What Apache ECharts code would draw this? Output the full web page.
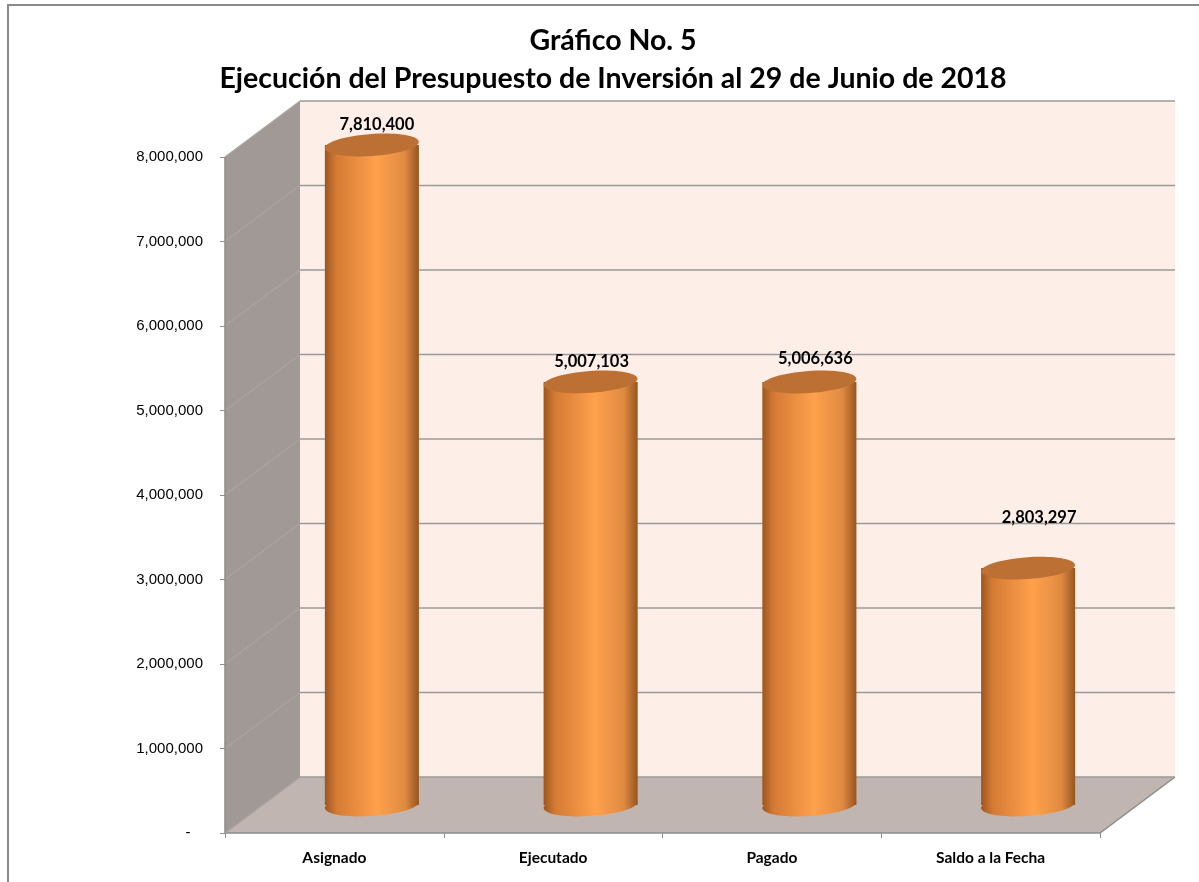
<!DOCTYPE html>
<html>
<head>
    <meta charset="utf-8">
    <title>Gráfico No. 5</title>
    <script src="https://cdn.jsdelivr.net/npm/echarts@6/dist/echarts.min.js"></script>
    <style>
        *{ margin:0; padding:0; }
        body{ background:#fff; }
        #main{ width:1199px; height:882px; }
    </style>
</head>
<body>
<div id="main"></div>
<script type="text/javascript">
    // datos del grafico
    var categorias = ['Asignado', 'Ejecutado', 'Pagado', 'Saldo a la Fecha'];
    var valores = [7810400, 5007103, 5006636, 2803297];
    var ejeMax = 8000000;
    var ejePaso = 1000000;

    // profundidad 3D (px) y ajustes de las etiquetas como en el original
    var DX = 75, DY = -56;
    var etiquetaSubir = [20, 20, 23, 50];
    var etiquetaMover = [5, 1, 6, 11];

    var fuente = 'Lato, "Open Sans", sans-serif';

    (function(){
        var chart = echarts.init(document.getElementById('main'));

        function paredes(params, api) {
            var cs = params.coordSys;
            var x0 = cs.x, x1 = cs.x + cs.width;
            var y0 = api.coord([0, 0])[1];
            var yTop = api.coord([0, ejeMax])[1];
            var hijos = [];
            // pared del fondo
            hijos.push({type: 'rect', shape: {x: x0 + DX, y: yTop + DY, width: cs.width, height: y0 - yTop},
                style: {fill: '#fdeee7'}});
            // pared lateral
            hijos.push({type: 'polygon', shape: {points: [[x0, yTop], [x0 + DX, yTop + DY], [x0 + DX, y0 + DY], [x0, y0]]},
                style: {fill: '#a19995'}});
            // piso
            hijos.push({type: 'polygon', shape: {points: [[x0, y0], [x0 + DX, y0 + DY], [x1 + DX, y0 + DY], [x1, y0]]},
                style: {fill: '#c0b5b0'}});
            // lineas de division
            for (var v = ejePaso; v <= ejeMax; v += ejePaso) {
                var y = api.coord([0, v])[1];
                hijos.push({type: 'line', shape: {x1: x0 + DX, y1: y + DY, x2: x1 + DX, y2: y + DY},
                    style: {stroke: '#9a9a9a', lineWidth: 1.5}});
                hijos.push({type: 'line', shape: {x1: x0, y1: y, x2: x0 + DX, y2: y + DY},
                    style: {stroke: '#aaa5a2', lineWidth: 1.2}});
            }
            // bordes
            hijos.push({type: 'polyline', shape: {points: [[x0, yTop], [x0, y0], [x1, y0], [x1 + DX, y0 + DY]]},
                style: {stroke: '#8c8c8c', lineWidth: 1.5, fill: null}});
            hijos.push({type: 'line', shape: {x1: x0, y1: y0, x2: x0 + DX, y2: y0 + DY},
                style: {stroke: '#a8a09c', lineWidth: 1.2}});
            hijos.push({type: 'line', shape: {x1: x0 + DX, y1: y0 + DY, x2: x1 + DX, y2: y0 + DY},
                style: {stroke: '#9a9a9a', lineWidth: 1.5}});
            return {type: 'group', children: hijos};
        }

        function cilindro(params, api) {
            var i = api.value(0);
            var base = api.coord([i, 0]);
            var tope = api.coord([i, api.value(1)]);
            var cx = base[0] + DX / 2;
            var yb = base[1] + DY / 2;
            var yt = tope[1] + DY / 2;
            var w = api.size([1, 0])[0] * 0.43;
            var ry = 11;
            var grad = new echarts.graphic.LinearGradient(0, 0, 1, 0, [
                {offset: 0, color: '#9c5620'},
                {offset: 0.12, color: '#d47a34'},
                {offset: 0.55, color: '#ffa14c'},
                {offset: 0.85, color: '#e08a42'},
                {offset: 1, color: '#97551f'}
            ]);
            return {
                type: 'group',
                children: [
                    {type: 'ellipse', shape: {cx: cx, cy: yb, rx: w / 2, ry: ry}, rotation: 0.07,
                        originX: cx, originY: yb, style: {fill: grad}},
                    {type: 'rect', shape: {x: cx - w / 2, y: yt, width: w, height: yb - yt}, style: {fill: grad}},
                    {type: 'ellipse', shape: {cx: cx, cy: yt, rx: w / 2, ry: ry}, rotation: 0.07,
                        originX: cx, originY: yt, style: {fill: '#bd7034'}},
                    {type: 'text', x: cx + etiquetaMover[i], y: yt - etiquetaSubir[i],
                        style: {text: api.value(1).toLocaleString('en-US'), font: 'bold 16.5px ' + fuente,
                            fill: '#000', align: 'center', verticalAlign: 'middle'}}
                ]
            };
        }

        var option = {
            animation: false,
            backgroundColor: '#fff',
            title: {
                text: 'Gráfico No. 5\nEjecución del Presupuesto de Inversión al 29 de Junio de 2018',
                left: 608,
                top: 17,
                textAlign: 'center',
                textStyle: {fontFamily: fuente, fontWeight: 'bold', fontSize: 28.5, lineHeight: 38, color: '#000'}
            },
            graphic: [{
                type: 'rect', shape: {x: 8, y: 5, width: 1400, height: 1000},
                style: {fill: null, stroke: '#8a8a8a', lineWidth: 2}, z: 100
            }],
            grid: {left: 225, right: 99, top: 157, bottom: 49},
            xAxis: {
                type: 'category',
                data: categorias,
                axisLine: {show: false},
                axisTick: {show: true, length: 5, lineStyle: {color: '#8c8c8c'}},
                axisLabel: {margin: 17, fontFamily: fuente, fontWeight: 'bold', fontSize: 15.5, color: '#000'},
                splitLine: {show: false}
            },
            yAxis: {
                type: 'value',
                min: 0,
                max: ejeMax,
                interval: ejePaso,
                axisLine: {show: false},
                axisTick: {show: true, length: 5, lineStyle: {color: '#8c8c8c'}},
                axisLabel: {
                    margin: 22,
                    fontFamily: '"Liberation Sans", Arial, sans-serif',
                    fontSize: 15,
                    color: '#000',
                    formatter: function (v) { return v === 0 ? '-   ' : v.toLocaleString('en-US'); }
                },
                splitLine: {show: false}
            },
            series: [
                {
                    type: 'custom',
                    z: 1,
                    renderItem: paredes,
                    data: [[0, 0]],
                    silent: true
                },
                {
                    type: 'custom',
                    z: 2,
                    renderItem: cilindro,
                    encode: {x: 0, y: 1},
                    data: valores.map(function (v, i) { return [i, v]; })
                }
            ]
        };
        chart.setOption(option);
    })();
</script>
</body>
</html>
